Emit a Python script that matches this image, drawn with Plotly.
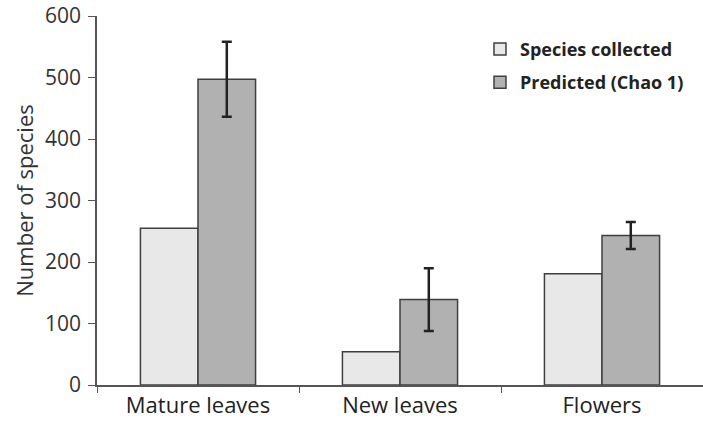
import plotly.graph_objects as go

categories = ["Mature leaves", "New leaves", "Flowers"]
collected = [255, 54, 181]
predicted = [497, 139, 243]
pred_err = [61, 51, 22]
y_ticks = [0, 100, 200, 300, 400, 500, 600]

font_family = "'Open Sans', sans-serif"

fig = go.Figure()
fig.add_trace(go.Bar(
    x=categories, y=collected, name="Species collected", legendgroup="a",
    marker=dict(color="#e8e8e8", line=dict(color="#3f3f3f", width=1.5)),
))
fig.add_trace(go.Bar(
    x=categories, y=predicted, name="Predicted (Chao 1)", legendgroup="b",
    marker=dict(color="#b1b1b1", line=dict(color="#3f3f3f", width=1.5)),
    error_y=dict(type="data", array=pred_err, visible=True,
                 color="#222222", thickness=2.5, width=5),
))

fig.update_layout(
    width=703, height=424,
    margin=dict(l=97, r=0, t=16, b=39),
    paper_bgcolor="white", plot_bgcolor="white",
    barmode="group", bargap=0.43, bargroupgap=0,
    font=dict(family=font_family, color="#333333"),
    showlegend=True,
    legend=dict(
        x=0.632, y=0.96, xanchor="left", yanchor="top",
        font=dict(size=18, color="#222222", family=font_family, weight="bold"),
        bgcolor="rgba(0,0,0,0)", traceorder="grouped", tracegroupgap=7,
    ),
    xaxis=dict(
        showline=True, linecolor="#555555", linewidth=1.5,
        ticks="outside", tickson="boundaries", ticklen=6, tickcolor="#555555",
        tickfont=dict(size=22, color="#222222"),
        showgrid=False,
    ),
    yaxis=dict(
        range=[0, 600], tickvals=y_ticks,
        showline=True, linecolor="#555555", linewidth=1.5,
        ticks="outside", ticklen=7, tickcolor="#555555",
        tickfont=dict(size=21, color="#333333"),
        ticklabelstandoff=3,
        showgrid=False, zeroline=False,
        title=dict(text="Number of species", font=dict(size=22, color="#333333"), standoff=5),
    ),
)

fig.write_html("out.html")
